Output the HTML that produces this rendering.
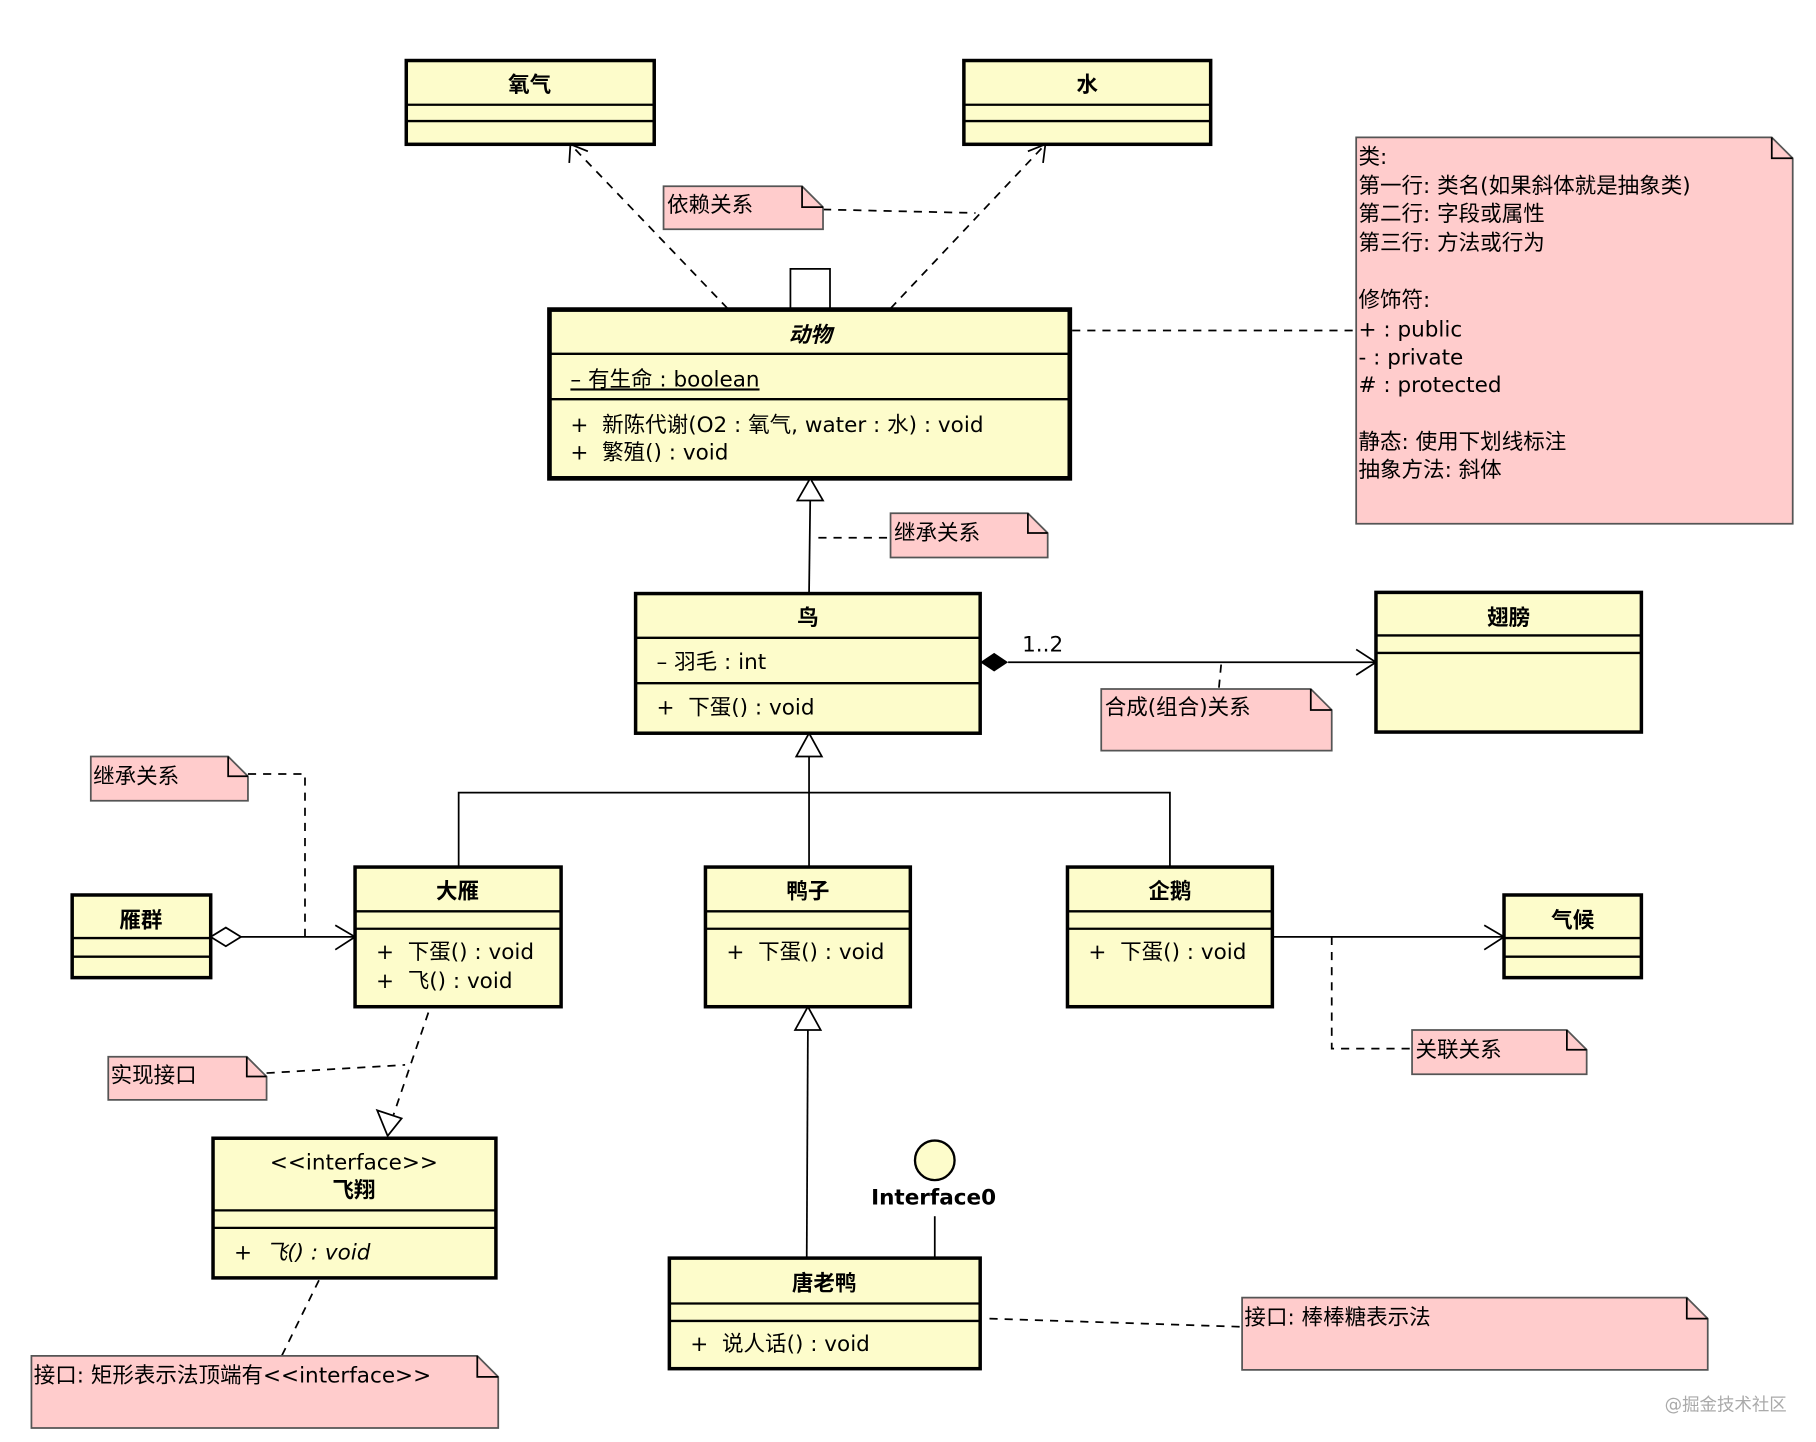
<!DOCTYPE html>
<html><head><meta charset="utf-8"><style>
html,body{margin:0;padding:0;background:#fff;}
svg{display:block;}
text{font-family:"DejaVu Sans","Noto Sans CJK SC",sans-serif;font-size:18.5px;fill:#000;}
.b{font-weight:bold;}
.c{fill:#fdfccb;stroke:#000;stroke-width:3;}
.c4{fill:#fdfccb;stroke:#000;stroke-width:4;}
.n{fill:#ffcccc;stroke:#555;stroke-width:1.5;}
.l{stroke:#000;stroke-width:1.5;fill:none;}
.d{stroke:#000;stroke-width:1.5;fill:none;stroke-dasharray:7,6;}
.sep{stroke:#000;stroke-width:2;}
</style></head><body>
<svg width="1816" height="1442" viewBox="0 0 1560 1239" preserveAspectRatio="none" xmlns="http://www.w3.org/2000/svg">
<rect x="0" y="0" width="1560" height="1239" fill="#fff"/>

<rect class="c" x="349" y="52" width="213" height="72"/>
<line class="sep" x1="349" y1="90" x2="562" y2="90"/><line class="sep" x1="349" y1="104" x2="562" y2="104"/>
<text class="b" x="455" y="79" text-anchor="middle">氧气</text>
<rect class="c" x="828" y="52" width="212" height="72"/>
<line class="sep" x1="828" y1="90" x2="1040" y2="90"/><line class="sep" x1="828" y1="104" x2="1040" y2="104"/>
<text class="b" x="934" y="79" text-anchor="middle">水</text>

<line class="d" x1="625" y1="265" x2="490" y2="124"/>
<polyline class="l" points="489,140 490,124 505,130"/>
<line class="d" x1="765" y1="265" x2="898" y2="124"/>
<polyline class="l" points="883,130 898,124 896,140"/>
<line class="d" x1="707" y1="180" x2="838" y2="183"/>
<path class="n" d="M570,160 H689 L707,178 V197 H570 Z"/><path class="l" d="M689,160 V178 H707"/>
<text x="573" y="182">依赖关系</text>

<polyline class="l" points="679,266 679,231 713,231 713,266"/>

<rect class="c4" x="472" y="266" width="447" height="145"/>
<line class="sep" x1="472" y1="304" x2="919" y2="304"/><line class="sep" x1="472" y1="343" x2="919" y2="343"/>
<text class="b" x="696" y="294" text-anchor="middle" font-style="italic">动物</text>
<text x="490" y="332" text-decoration="underline" xml:space="preserve">– 有生命 : boolean</text>
<text x="490" y="371" xml:space="preserve">+  新陈代谢(O2 : 氧气, water : 水) : void</text>
<text x="490" y="395" xml:space="preserve">+  繁殖() : void</text>

<line class="d" x1="921" y1="284" x2="1165" y2="284"/>
<path class="n" d="M1165,118 H1522 L1540,136 V450 H1165 Z"/><path class="l" d="M1522,118 V136 H1540"/>
<g>
<text x="1167" y="141">类:</text>
<text x="1167" y="166">第一行: 类名(如果斜体就是抽象类)</text>
<text x="1167" y="190">第二行: 字段或属性</text>
<text x="1167" y="215">第三行: 方法或行为</text>
<text x="1167" y="264">修饰符:</text>
<text x="1167" y="289" xml:space="preserve">+ : public</text>
<text x="1167" y="313" xml:space="preserve">- : private</text>
<text x="1167" y="337" xml:space="preserve"># : protected</text>
<text x="1167" y="386">静态: 使用下划线标注</text>
<text x="1167" y="410">抽象方法: 斜体</text>
</g>

<line class="l" x1="695" y1="510" x2="696" y2="430"/>
<polygon points="696,411 685,430 707,430" fill="#fff" stroke="#000" stroke-width="1.5"/>
<line class="d" x1="703" y1="462" x2="765" y2="462"/>
<path class="n" d="M765,441 H883 L900,458 V479 H765 Z"/><path class="l" d="M883,441 V458 H900"/>
<text x="768" y="464">继承关系</text>

<rect class="c" x="546" y="510" width="296" height="120"/>
<line class="sep" x1="546" y1="548" x2="842" y2="548"/><line class="sep" x1="546" y1="587" x2="842" y2="587"/>
<text class="b" x="694" y="537" text-anchor="middle">鸟</text>
<text x="564" y="575" xml:space="preserve">– 羽毛 : int</text>
<text x="564" y="614" xml:space="preserve">+  下蛋() : void</text>

<line class="l" x1="866" y1="569" x2="1182" y2="569"/>
<polygon points="842,569 854,561 866,569 854,577" fill="#000"/>
<polyline class="l" points="1165,558 1182,569 1165,580"/>
<text x="878" y="560">1..2</text>
<line class="d" x1="1049" y1="571" x2="1047" y2="592"/>
<path class="n" d="M946,592 H1126 L1144,610 V645 H946 Z"/><path class="l" d="M1126,592 V610 H1144"/>
<text x="949" y="614">合成(组合)关系</text>

<rect class="c" x="1182" y="509" width="228" height="120"/>
<line class="sep" x1="1182" y1="546" x2="1410" y2="546"/><line class="sep" x1="1182" y1="561" x2="1410" y2="561"/>
<text class="b" x="1296" y="537" text-anchor="middle">翅膀</text>

<polygon points="695,630 684,650 706,650" fill="#fff" stroke="#000" stroke-width="1.5"/>
<line class="l" x1="695" y1="650" x2="695" y2="745"/>
<polyline class="l" points="394,745 394,681 1005,681 1005,745"/>

<path class="n" d="M78,650 H196 L213,667 V688 H78 Z"/><path class="l" d="M196,650 V667 H213"/>
<text x="80" y="673">继承关系</text>
<polyline class="d" points="213,665 262,665 262,805"/>

<rect class="c" x="62" y="769" width="119" height="71"/>
<line class="sep" x1="62" y1="806" x2="181" y2="806"/><line class="sep" x1="62" y1="822" x2="181" y2="822"/>
<text class="b" x="121" y="797" text-anchor="middle">雁群</text>
<line class="l" x1="207" y1="805" x2="305" y2="805"/>
<polygon points="181,805 194,797 207,805 194,813" fill="#fff" stroke="#000" stroke-width="1.5"/>
<polyline class="l" points="288,795 305,805 288,816"/>

<rect class="c" x="305" y="745" width="177" height="120"/>
<line class="sep" x1="305" y1="783" x2="482" y2="783"/><line class="sep" x1="305" y1="798" x2="482" y2="798"/>
<text class="b" x="393" y="772" text-anchor="middle">大雁</text>
<text x="323" y="824" xml:space="preserve">+  下蛋() : void</text>
<text x="323" y="849" xml:space="preserve">+  飞() : void</text>

<rect class="c" x="606" y="745" width="176" height="120"/>
<line class="sep" x1="606" y1="783" x2="782" y2="783"/><line class="sep" x1="606" y1="798" x2="782" y2="798"/>
<text class="b" x="694" y="772" text-anchor="middle">鸭子</text>
<text x="624" y="824" xml:space="preserve">+  下蛋() : void</text>

<rect class="c" x="917" y="745" width="176" height="120"/>
<line class="sep" x1="917" y1="783" x2="1093" y2="783"/><line class="sep" x1="917" y1="798" x2="1093" y2="798"/>
<text class="b" x="1005" y="772" text-anchor="middle">企鹅</text>
<text x="935" y="824" xml:space="preserve">+  下蛋() : void</text>

<line class="l" x1="1093" y1="805" x2="1292" y2="805"/>
<polyline class="l" points="1275,795 1292,805 1275,816"/>
<polyline class="d" points="1144,805 1144,901 1213,901"/>
<path class="n" d="M1213,885 H1346 L1363,902 V923 H1213 Z"/><path class="l" d="M1346,885 V902 H1363"/>
<text x="1216" y="908">关联关系</text>

<rect class="c" x="1292" y="769" width="118" height="71"/>
<line class="sep" x1="1292" y1="806" x2="1410" y2="806"/><line class="sep" x1="1292" y1="822" x2="1410" y2="822"/>
<text class="b" x="1351" y="797" text-anchor="middle">气候</text>

<line class="d" x1="368" y1="870" x2="338" y2="958"/>
<polygon points="333,976 324,954 345,961" fill="#fff" stroke="#000" stroke-width="1.5"/>
<line class="d" x1="229" y1="922" x2="348" y2="915"/>
<path class="n" d="M93,908 H212 L229,925 V945 H93 Z"/><path class="l" d="M212,908 V925 H229"/>
<text x="95" y="930">实现接口</text>

<rect class="c" x="183" y="978" width="243" height="120"/>
<line class="sep" x1="183" y1="1040" x2="426" y2="1040"/><line class="sep" x1="183" y1="1055" x2="426" y2="1055"/>
<text x="304" y="1005" text-anchor="middle">&lt;&lt;interface&gt;&gt;</text>
<text class="b" x="304" y="1029" text-anchor="middle">飞翔</text>
<text x="201" y="1082" font-style="italic" xml:space="preserve">+  飞() : void</text>

<line class="d" x1="274" y1="1100" x2="242" y2="1165"/>
<path class="n" d="M27,1165 H410 L428,1183 V1227 H27 Z"/><path class="l" d="M410,1165 V1183 H428"/>
<text x="29" y="1188">接口: 矩形表示法顶端有&lt;&lt;interface&gt;&gt;</text>

<polygon points="694,865 683,885 705,885" fill="#fff" stroke="#000" stroke-width="1.5"/>
<line class="l" x1="694" y1="885" x2="693" y2="1081"/>

<circle cx="803" cy="997" r="17" fill="#fdfccb" stroke="#000" stroke-width="2"/>
<text class="b" x="802" y="1035" text-anchor="middle">Interface0</text>
<line class="l" x1="803" y1="1045" x2="803" y2="1081"/>

<rect class="c" x="575" y="1081" width="267" height="95"/>
<line class="sep" x1="575" y1="1120" x2="842" y2="1120"/><line class="sep" x1="575" y1="1135" x2="842" y2="1135"/>
<text class="b" x="708" y="1109" text-anchor="middle">唐老鸭</text>
<text x="593" y="1161" xml:space="preserve">+  说人话() : void</text>

<line class="d" x1="850" y1="1133" x2="1067" y2="1140"/>
<path class="n" d="M1067,1115 H1449 L1467,1133 V1177 H1067 Z"/><path class="l" d="M1449,1115 V1133 H1467"/>
<text x="1069" y="1138">接口: 棒棒糖表示法</text>

<text x="1430" y="1212" style="font-size:15px;fill:#aaa;">@掘金技术社区</text>
</svg>
</body></html>
